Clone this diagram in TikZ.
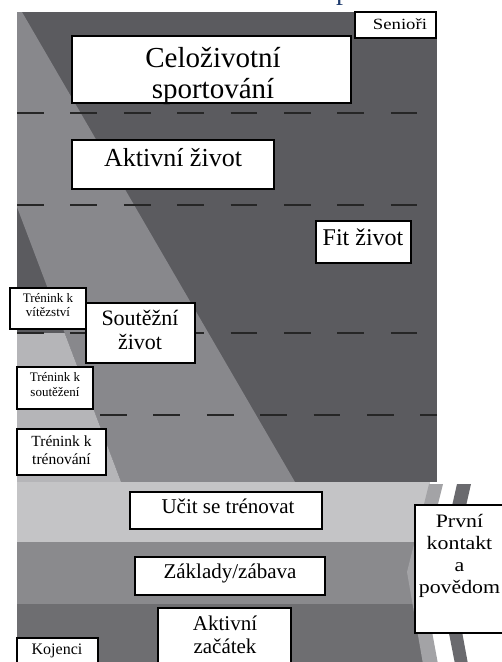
\documentclass[tikz,border=0pt]{standalone}
\usepackage{fontspec}
\setmainfont{Liberation Serif}
\newfontfamily\widefont[FakeStretch=1.2]{Liberation Serif}
\newfontfamily\wideboxfont[FakeStretch=1.15]{Liberation Serif}
\definecolor{darkbg}{HTML}{5B5B5F}
\definecolor{midband}{HTML}{88888C}
\definecolor{liteband}{HTML}{B5B5B8}
\definecolor{bandA}{HTML}{C4C4C6}
\definecolor{bandB}{HTML}{8A8A8D}
\definecolor{bandC}{HTML}{6E6E71}
\definecolor{chevA}{HTML}{A3A3A6}
\definecolor{chevB}{HTML}{6A6A6E}
\definecolor{dashc}{HTML}{262626}
\definecolor{titleblue}{HTML}{1F3C6E}
\tikzset{
  box/.style={draw=black, line width=1.6pt, fill=white, inner sep=0pt},
  txt/.style={inner sep=0pt, align=center, text=black},
  dashline/.style={line width=1.8pt, draw=dashc, dash pattern=on 26.7pt off 26.7pt},
}
\begin{document}
\begin{tikzpicture}[x=1pt,y=-1pt]
\useasboundingbox (0,0) rectangle (502,662);
% cut-off title
\node[inner sep=0pt, anchor=base west, text=titleblue, font=\fontsize{28}{30}\selectfont] (title) at (336,-1) {p};
% main panel
\fill[darkbg] (17,12) rectangle (437,482);
\fill[midband] (17,12) -- (22,12) -- (295,482) -- (121,482) -- (17,207) -- cycle;
\fill[liteband] (17,333) -- (64.6,333) -- (121,482) -- (17,482) -- cycle;
% bottom bands
\fill[bandA] (17,482) rectangle (430,542);
\fill[bandB] (17,542) rectangle (430,604);
\fill[bandC] (17,604) rectangle (430,662);
% chevrons
\fill[chevA] (429,484) -- (443,484) -- (421,572) -- (438,664) -- (423,664) -- (407,572) -- cycle;
\fill[chevB] (457,484) -- (471,484) -- (451,572) -- (468,664) -- (455,664) -- (437,572) -- cycle;
% dashed lines
\draw[dashline] (17,113) -- (417,113);
\draw[dashline] (17,205) -- (417,205);
\draw[dashline] (17,333) -- (417,333);
\draw[dashline] (100,415) -- (437,415);
% boxes
\node[box, minimum width=81pt, minimum height=26pt] (sen) at (395.5,25) {};
\node[box, minimum width=279pt, minimum height=67pt] (cel) at (211.5,69.5) {};
\node[box, minimum width=202pt, minimum height=49pt] (akz) at (173,164.5) {};
\node[box, minimum width=95pt, minimum height=42pt] (fit) at (363.5,242) {};
\node[box, minimum width=76pt, minimum height=41pt] (tvi) at (48,308.5) {};
\node[box, minimum width=109pt, minimum height=60pt] (sou) at (140.5,333) {};
\node[box, minimum width=76pt, minimum height=42pt] (tso) at (55,388) {};
\node[box, minimum width=89pt, minimum height=46pt] (ttr) at (61.5,452) {};
\node[box, minimum width=192pt, minimum height=37pt] (uci) at (226,510.5) {};
\node[box, minimum width=190pt, minimum height=38pt] (zak) at (230,576) {};
\node[box, minimum width=133pt, minimum height=62pt] (azc) at (224.5,639) {};
\node[box, minimum width=81pt, minimum height=32pt] (koj) at (57.5,654) {};
\node[box, minimum width=90pt, minimum height=128pt] (prv) at (460,569) {};
% texts
\node[txt, anchor=base, font=\widefont\fontsize{15.6}{18}\selectfont] (senT) at (400,29.5) {Senioři};
\node[txt, font=\fontsize{29}{31}\selectfont] (celT) at (213,75.5) {Celoživotní\\sportování};
\node[txt, anchor=base, font=\fontsize{26}{28}\selectfont] (akzT) at (173,166) {Aktivní život};
\node[txt, anchor=base, font=\fontsize{24}{26}\selectfont] (fitT) at (363,245) {Fit život};
\node[txt, font=\fontsize{13}{14.5}\selectfont] (tviT) at (48,305) {Trénink k\\vítězství};
\node[txt, font=\fontsize{22}{24}\selectfont] (souT) at (140,329.5) {Soutěžní\\život};
\node[txt, font=\fontsize{13}{15}\selectfont] (tsoT) at (55,384.7) {Trénink k\\soutěžení};
\node[txt, font=\fontsize{15.5}{18.3}\selectfont] (ttrT) at (61.5,450.5) {Trénink k\\trénování};
\node[txt, anchor=base, font=\fontsize{21}{23}\selectfont] (uciT) at (228,513) {Učit se trénovat};
\node[txt, anchor=base, font=\fontsize{21}{23}\selectfont] (zakT) at (230,578) {Základy/zábava};
\node[txt, font=\fontsize{21}{22.7}\selectfont] (azcT) at (225,635) {Aktivní\\začátek};
\node[txt, anchor=base, font=\fontsize{16}{18}\selectfont] (kojT) at (57,654.5) {Kojenci};
\node[txt, font=\wideboxfont\fontsize{19}{22}\selectfont] (prvT) at (459.5,555.8) {První\\kontakt\\a\\povědom};
\end{tikzpicture}
\end{document}
